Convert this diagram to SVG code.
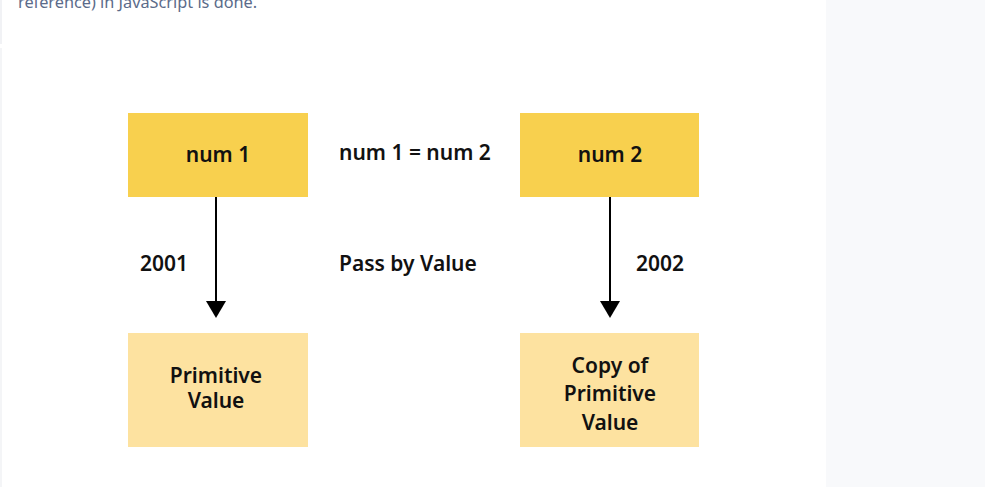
<svg xmlns="http://www.w3.org/2000/svg" width="985" height="487" viewBox="0 0 985 487">
<style>
.t{font-family:"Noto Sans","Open Sans","Liberation Sans",sans-serif;font-weight:600;font-size:21px;fill:#111;}
.c{text-anchor:middle;}
.dark{fill:#f8d04e;}
.light{fill:#fde2a0;}
.ln{stroke:#000;stroke-width:2;fill:none;}
.hd{fill:#000;}
</style>
<rect x="0" y="0" width="985" height="487" fill="#ffffff"/>
<rect x="826" y="0" width="159" height="487" fill="#f8f9fb"/>
<line x1="1" y1="0" x2="1" y2="44" stroke="#f1f2f5" stroke-width="2"/>
<line x1="1" y1="48" x2="1" y2="487" stroke="#f4f5f7" stroke-width="2"/>
<text x="18" y="8" font-family="'Source Sans Pro','Noto Sans','Open Sans',sans-serif" font-size="16.3" fill="#5b6b8a">reference) in JavaScript is done.</text>
<g id="connectors">
<line class="ln" x1="216" y1="197" x2="216" y2="303"/>
<polygon class="hd" points="206,301 226,301 216,318"/>
<line class="ln" x1="610" y1="197" x2="610" y2="303"/>
<polygon class="hd" points="600,301 620,301 610,318"/>
</g>
<g id="num1">
<rect class="dark" x="128" y="113" width="180" height="84"/>
<text class="t c" x="218" y="162">num 1</text>
</g>
<g id="num2">
<rect class="dark" x="520" y="113" width="179" height="84"/>
<text class="t c" x="610" y="162">num 2</text>
</g>
<g id="primitive">
<rect class="light" x="128" y="333" width="180" height="114"/>
<text class="t c" x="216" y="383">Primitive</text>
<text class="t c" x="216" y="408">Value</text>
</g>
<g id="copy">
<rect class="light" x="520" y="333" width="179" height="114"/>
<text class="t c" x="610" y="373">Copy of</text>
<text class="t c" x="610" y="401">Primitive</text>
<text class="t c" x="610" y="430">Value</text>
</g>
<g id="labels">
<text class="t" x="339" y="160">num 1 = num 2</text>
<text class="t" x="140" y="271">2001</text>
<text class="t" x="339" y="271">Pass by Value</text>
<text class="t" x="636" y="271">2002</text>
</g>
</svg>
